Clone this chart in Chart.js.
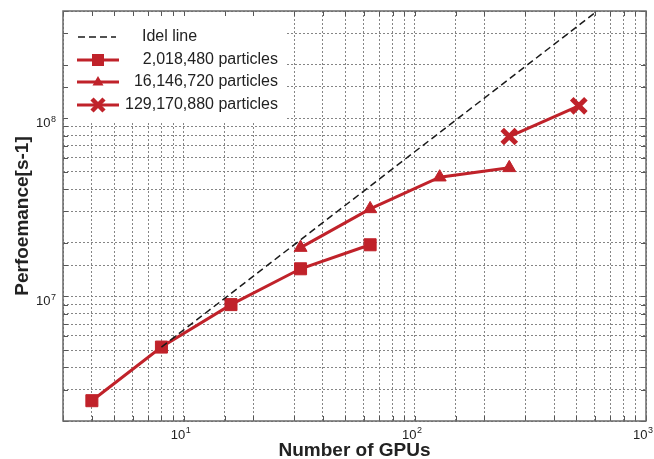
<!DOCTYPE html>
<html>
<head>
<meta charset="utf-8">
<script src="https://cdn.jsdelivr.net/npm/chart.js@4/dist/chart.umd.min.js"></script>
<style>
  html, body { margin: 0; padding: 0; background: #fff; }
  #wrap { width: 654px; height: 459px; position: relative; }
</style>
</head>
<body>
<div id="wrap"><canvas id="perfChart"></canvas></div>
<script>
// values
const gpus1 = [4, 8, 16, 32, 64];
const perf1 = [2.6e6, 5.2e6, 9.0e6, 1.43e7, 1.95e7];
const gpus2 = [32, 64, 128, 256];
const perf2 = [1.88e7, 3.1e7, 4.67e7, 5.27e7];
const gpus3 = [256, 512];
const perf3 = [7.9e7, 1.175e8];
const idealGpus = [8, 640];
const idealPerf = [5.2e6, 4.16e8];

const seriesNames = ['Idel line', '2,018,480 particles', '16,146,720 particles', '129,170,880 particles'];
// tick labels: base and exponent, drawn as 10 with a raised exponent
const xTickValues = [10, 100, 1000];
const xTickExp = ['1', '2', '3'];
const yTickValues = [1e7, 1e8];
const yTickExp = ['7', '8'];

const red = '#c0222a';
const FONT = "'Liberation Sans', Arial, Helvetica, sans-serif";

const toPoints = (xs, ys) => xs.map((x, i) => ({ x: x, y: ys[i] }));

// legend box, tick labels, frame and inward ticks
const framePlugin = {
  id: 'frame',
  afterDraw(chart) {
    const ctx = chart.ctx;
    const a = chart.chartArea;
    const xs = chart.scales.x, ys = chart.scales.y;
    ctx.save();

    // tick labels
    ctx.fillStyle = '#222';
    ctx.textBaseline = 'alphabetic';
    xTickValues.forEach((v, i) => {
      const p = xs.getPixelForValue(v);
      ctx.font = '13px ' + FONT;
      ctx.textAlign = 'right';
      ctx.fillText('10', p + 1.5, 439);
      ctx.font = '9px ' + FONT;
      ctx.textAlign = 'left';
      ctx.fillText(xTickExp[i], p + 2, 433);
    });
    yTickValues.forEach((v, i) => {
      const p = ys.getPixelForValue(v);
      ctx.font = '13px ' + FONT;
      ctx.textAlign = 'right';
      ctx.fillText('10', 50.5, p + 8.5);
      ctx.font = '9px ' + FONT;
      ctx.textAlign = 'left';
      ctx.fillText(yTickExp[i], 51, p + 3.5);
    });

    // legend
    ctx.fillStyle = '#fff';
    ctx.fillRect(a.left + 1, a.top + 1, 222, 111);
    const rows = [37, 60, 82, 105];
    ctx.font = '16px ' + FONT;
    ctx.fillStyle = '#222';
    ctx.textBaseline = 'middle';
    ctx.textAlign = 'left';
    ctx.fillText(seriesNames[0], 142, rows[0]);
    ctx.textAlign = 'right';
    for (let i = 1; i < 4; i++) ctx.fillText(seriesNames[i], 278, rows[i]);

    ctx.strokeStyle = '#1a1a1a';
    ctx.lineWidth = 1.5;
    ctx.setLineDash([7, 4]);
    ctx.beginPath();
    ctx.moveTo(78, rows[0]);
    ctx.lineTo(116, rows[0]);
    ctx.stroke();
    ctx.setLineDash([]);

    ctx.strokeStyle = red;
    ctx.fillStyle = red;
    ctx.lineWidth = 3;
    for (let i = 1; i < 4; i++) {
      ctx.beginPath();
      ctx.moveTo(77, rows[i]);
      ctx.lineTo(119, rows[i]);
      ctx.stroke();
    }
    const mx = 98;
    ctx.fillRect(mx - 6, rows[1] - 6, 12, 12);
    ctx.beginPath();
    ctx.moveTo(mx, rows[2] - 6);
    ctx.lineTo(mx + 5.5, rows[2] + 3.5);
    ctx.lineTo(mx - 5.5, rows[2] + 3.5);
    ctx.closePath();
    ctx.fill();
    ctx.lineWidth = 4.5;
    ctx.beginPath();
    ctx.moveTo(mx - 6, rows[3] - 6);
    ctx.lineTo(mx + 6, rows[3] + 6);
    ctx.moveTo(mx + 6, rows[3] - 6);
    ctx.lineTo(mx - 6, rows[3] + 6);
    ctx.stroke();

    // inward tick marks
    ctx.strokeStyle = '#555';
    ctx.lineWidth = 1;
    ctx.beginPath();
    xs.ticks.forEach(t => {
      const p = Math.round(xs.getPixelForValue(t.value)) + 0.5;
      ctx.moveTo(p, a.top); ctx.lineTo(p, a.top + 5);
      ctx.moveTo(p, a.bottom); ctx.lineTo(p, a.bottom - 5);
    });
    ys.ticks.forEach(t => {
      const p = Math.round(ys.getPixelForValue(t.value)) + 0.5;
      ctx.moveTo(a.left, p); ctx.lineTo(a.left + 5, p);
      ctx.moveTo(a.right, p); ctx.lineTo(a.right - 5, p);
    });
    ctx.stroke();

    // frame
    ctx.strokeStyle = '#6a6a6a';
    ctx.lineWidth = 1.5;
    ctx.strokeRect(a.left, a.top, a.right - a.left, a.bottom - a.top);
    ctx.restore();
  }
};

const gridOpts = { color: '#858585', lineWidth: 1, drawTicks: false };

new Chart(document.getElementById('perfChart'), {
  type: 'line',
  data: {
    datasets: [
      {
        label: seriesNames[0],
        data: toPoints(idealGpus, idealPerf),
        borderColor: '#1a1a1a',
        borderWidth: 1.5,
        borderDash: [7, 4],
        pointRadius: 0
      },
      {
        label: seriesNames[1],
        data: toPoints(gpus1, perf1),
        borderColor: red,
        backgroundColor: red,
        borderWidth: 3,
        pointStyle: 'rect',
        pointRadius: 8.5,
        pointBorderWidth: 1
      },
      {
        label: seriesNames[2],
        data: toPoints(gpus2, perf2),
        borderColor: red,
        backgroundColor: red,
        borderWidth: 3,
        pointStyle: 'triangle',
        pointRadius: 7.5,
        pointBorderWidth: 1
      },
      {
        label: seriesNames[3],
        data: toPoints(gpus3, perf3),
        borderColor: red,
        backgroundColor: red,
        borderWidth: 3,
        pointStyle: 'crossRot',
        pointRadius: 10,
        pointBorderWidth: 5
      }
    ]
  },
  options: {
    responsive: true,
    maintainAspectRatio: false,
    animation: false,
    layout: { autoPadding: false, padding: { left: 0, top: 11, right: 8, bottom: 0 } },
    plugins: { legend: { display: false }, tooltip: { enabled: false } },
    scales: {
      x: {
        type: 'logarithmic',
        min: 3,
        max: 1000,
        grid: gridOpts,
        border: { display: false, dash: [2, 2] },
        ticks: { display: false, autoSkip: false },
        title: {
          display: true,
          text: 'Number of GPUs',
          color: '#222',
          padding: 0,
          font: { family: FONT, size: 19, weight: 'bold', lineHeight: 0.85 }
        },
        afterFit: s => { s.height = 38; s.paddingLeft = 0; s.paddingRight = 0; }
      },
      y: {
        type: 'logarithmic',
        min: 2e6,
        max: 4e8,
        grid: gridOpts,
        border: { display: false, dash: [2, 2] },
        ticks: { display: false, autoSkip: false },
        title: {
          display: true,
          text: 'Perfoemance[s-1]',
          color: '#222',
          padding: { top: 11, bottom: 0 },
          font: { family: FONT, size: 19, weight: 'bold' }
        },
        afterFit: s => { s.width = 63; s.paddingTop = 0; s.paddingBottom = 0; }
      }
    }
  },
  plugins: [framePlugin]
});
</script>
</body>
</html>
